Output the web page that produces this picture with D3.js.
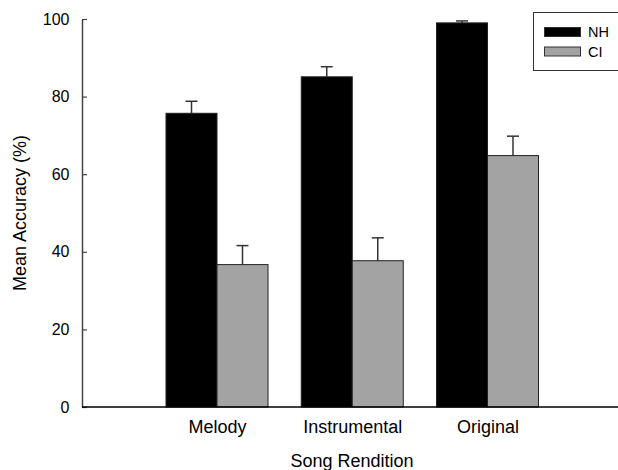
<!DOCTYPE html>
<html><head><meta charset="utf-8">
<script src="https://cdn.jsdelivr.net/npm/d3@7"></script>
<style>body{margin:0;background:#fff}svg{display:block}text{font-family:"Liberation Sans",Arial,sans-serif;fill:#000}</style>
</head><body><svg id="c" width="618" height="470"></svg>
<script>
const categories = ["Melody", "Instrumental", "Original"];
const seriesNames = ["NH", "CI"];
const nhMeans = [75.7, 85.1, 99.0];
const nhErr = [3.1, 2.6, 0.5];
const ciMeans = [36.7, 37.7, 64.8];
const ciErr = [4.9, 5.9, 5.0];
const yTicks = [0, 20, 40, 60, 80, 100];
const colors = ["#000000", "#a3a3a3"];

const svg = d3.select("#c");
const x0 = 82, x1 = 622, yTop = 19, yBot = 407;
const x = d3.scalePoint().domain(categories).range([217, 487.5]);
const y = d3.scaleLinear().domain([0, 100]).range([yBot, yTop]);
const bw = 51;
const FONT = "Liberation Sans, Arial, sans-serif";
const series = [
  {name: seriesNames[0], means: nhMeans, err: nhErr, color: colors[0]},
  {name: seriesNames[1], means: ciMeans, err: ciErr, color: colors[1]}
];

// bars
series.forEach((s, si) => {
  const g = svg.append("g");
  categories.forEach((c, i) => {
    const bx = x(c) - bw + si * bw;
    g.append("line").attr("x1", bx + bw/2).attr("x2", bx + bw/2)
      .attr("y1", y(s.means[i])).attr("y2", y(s.means[i] + s.err[i]))
      .attr("stroke", "#333").attr("stroke-width", 1.5);
    g.append("line").attr("x1", bx + bw/2 - 6).attr("x2", bx + bw/2 + 6)
      .attr("y1", y(s.means[i] + s.err[i])).attr("y2", y(s.means[i] + s.err[i]))
      .attr("stroke", "#333").attr("stroke-width", 1.5);
    g.append("rect").attr("x", bx).attr("width", bw)
      .attr("y", y(s.means[i])).attr("height", y(0) - y(s.means[i]))
      .attr("fill", s.color).attr("stroke", "#222").attr("stroke-width", 1);
  });
});

// y axis
const yAxis = d3.axisLeft(y).tickValues(yTicks).tickSize(-5).tickPadding(12.5).tickSizeOuter(0);
const ga = svg.append("g").attr("transform", `translate(${x0},0)`).call(yAxis);
ga.select(".domain").attr("stroke", "#444").attr("stroke-width", 1.5);
ga.selectAll(".tick line").attr("stroke", "#444").attr("stroke-width", 1.2);
ga.selectAll(".tick text").attr("font-size", 16).attr("font-family", FONT).attr("fill", "#000");

// x axis
const xAxis = d3.axisBottom(x).tickSize(0).tickPadding(13);
const gx = svg.append("g").attr("transform", `translate(0,${yBot})`).call(xAxis);
gx.select(".domain").remove();
svg.append("line").attr("x1", x0).attr("x2", x1).attr("y1", yBot).attr("y2", yBot)
  .attr("stroke", "#000").attr("stroke-width", 1.5);
gx.selectAll(".tick text").attr("font-size", 18).attr("font-family", FONT).attr("fill", "#000");

// axis titles
svg.append("text").attr("x", 352).attr("y", 467).attr("text-anchor", "middle")
  .attr("font-size", 18).text("Song Rendition");
svg.append("text").attr("transform", "translate(26,213) rotate(-90)").attr("text-anchor", "middle")
  .attr("font-size", 18).text("Mean Accuracy (%)");

// legend
const lg = svg.append("g");
lg.append("rect").attr("x", 533.5).attr("y", 12.5).attr("width", 100).attr("height", 58)
  .attr("fill", "#fff").attr("stroke", "#333").attr("stroke-width", 1);
series.forEach((s, i) => {
  lg.append("rect").attr("x", 544.5).attr("y", 27.5 + i * 19.5).attr("width", 36).attr("height", 9)
    .attr("fill", s.color).attr("stroke", "#333").attr("stroke-width", 1);
  lg.append("text").attr("x", 588).attr("y", 37.3 + i * 19.5).attr("font-size", 14.5).text(s.name);
});
</script></body></html>
